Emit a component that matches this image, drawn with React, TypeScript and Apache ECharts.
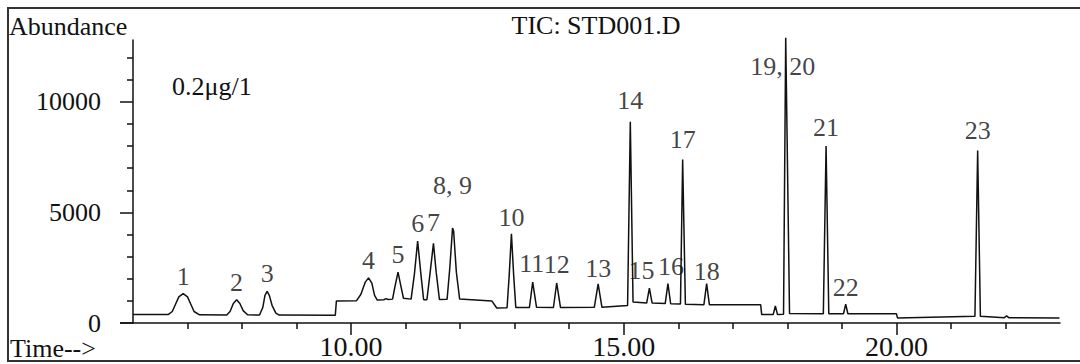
import React, { useEffect, useRef } from "react";
import * as echarts from "echarts";

// Chromatogram trace: [time (min), abundance]
const traceTimes: number[] = [
  6.0, 6.65, 6.72, 6.78, 6.84, 6.92, 7.0, 7.06, 7.12, 7.22,
  7.72, 7.78, 7.84, 7.9, 7.96, 8.02, 8.1,
  8.32, 8.38, 8.42, 8.46, 8.5, 8.55, 8.62, 8.68,
  9.71, 9.73, 10.1, 10.18, 10.26, 10.32, 10.38, 10.43, 10.48,
  10.6, 10.64, 10.68, 10.76, 10.8, 10.86, 10.91, 10.96,
  11.1, 11.16, 11.22, 11.28, 11.33, 11.39, 11.45, 11.51, 11.56, 11.62,
  11.76, 11.81, 11.86, 11.88, 11.93, 11.99,
  12.58, 12.67, 12.86, 12.9, 12.94, 12.98, 13.02,
  13.27, 13.33, 13.4, 13.71, 13.77, 13.84, 14.46, 14.53, 14.6,
  15.07, 15.12, 15.17, 15.42, 15.47, 15.52, 15.76, 15.81, 15.86,
  16.04, 16.08, 16.13, 16.47, 16.52, 16.57,
  17.51, 17.53, 17.74, 17.78, 17.82, 17.93, 17.97, 18.04,
  18.66, 18.71, 18.76, 19.03, 19.07, 19.11,
  20.0, 20.02, 21.44, 21.49, 21.54, 21.98, 22.02, 22.06, 22.99,
];
const traceValues: number[] = [
  390, 390, 520, 850, 1180, 1330, 1180, 850, 520, 370,
  360, 520, 880, 1050, 880, 560, 370,
  360, 700, 1250, 1430, 1250, 800, 450, 360,
  350, 1000, 1010, 1300, 1850, 2040, 1800, 1250, 1040,
  1050, 1100, 1060, 1080, 1600, 2300, 1700, 1120,
  1080, 2200, 3700, 2200, 1050, 1050, 2300, 3600, 2300, 1060,
  1070, 2500, 4300, 4150, 2300, 1080,
  1000, 680, 690, 2200, 4040, 2200, 700,
  700, 1850, 710, 700, 1810, 700, 710, 1770, 710,
  790, 9100, 950, 900, 1580, 900, 880, 1780, 870,
  860, 7400, 850, 830, 1780, 830,
  830, 380, 380, 770, 380, 400, 12900, 430,
  420, 8000, 420, 420, 850, 420,
  420, 230, 300, 7800, 300, 240, 320, 240, 230,
];

// Peak labels and the apex each one sits on
const peakNames: string[] = [
  "1", "2", "3", "4", "5", "6", "7", "8, 9", "10", "11", "12", "13",
  "14", "15", "16", "17", "18", "19, 20", "21", "22", "23",
];
const peakTimes: number[] = [
  6.92, 7.9, 8.46, 10.32, 10.86, 11.22, 11.51, 11.86, 12.94, 13.33, 13.77, 14.53,
  15.12, 15.47, 15.81, 16.08, 16.52, 17.97, 18.71, 19.07, 21.49,
];
const peakValues: number[] = [
  1330, 1050, 1430, 2040, 2300, 3700, 3600, 4300, 4040, 1850, 1810, 1770,
  9100, 1580, 1780, 7400, 1780, 12900, 8000, 850, 7800,
];
// label pixel offsets (layout only)
const peakLabelOffsets: [number, number][] = [
  [0, 0], [0, 0], [0, 0], [0, 0], [0, 0], [0, 0], [0, -3], [0, -25], [0, 1], [-1, -1], [0, -1], [0, 2],
  [0, -4], [-8, 0], [3, 0], [0, -2], [0, 5], [-3, 46], [0, -1], [0, 1], [0, -3],
];

// Axis ticks and labels
const yMajorTicks: number[] = [0, 5000, 10000];
const yMinorTicks: number[] = [1000, 2000, 3000, 4000, 6000, 7000, 8000, 9000, 11000, 12000];
const xMajorTicks: number[] = [10, 15, 20];
const xMinorTicks: number[] = [7, 8, 9, 11, 12, 13, 14, 16, 17, 18, 19, 21, 22];

const FONT = "'Liberation Serif', 'Times New Roman', serif";
const INK = "#111111";

export default function App() {
  const ref = useRef<HTMLDivElement>(null);

  useEffect(() => {
    document.body.style.margin = "0";
    if (!ref.current) return;
    const chart = echarts.init(ref.current, null, { renderer: "svg" });

    const trace = traceTimes.map((t, i) => [t, traceValues[i]]);
    const peaks = peakNames.map((name, i) => ({
      name,
      value: [peakTimes[i], peakValues[i]],
      label: { offset: peakLabelOffsets[i] },
    }));

    const grid = { left: 133, right: 20, top: 40, bottom: 41 };

    chart.setOption({
      animation: false,
      backgroundColor: "#ffffff",
      grid,
      xAxis: [
        {
          type: "value",
          min: 6,
          max: 23,
          axisLine: { show: true, lineStyle: { color: INK, width: 1.5 } },
          axisTick: {
            show: true,
            length: 12,
            lineStyle: { color: INK, width: 1.5 },
            customValues: xMajorTicks,
          },
          axisLabel: {
            show: true,
            customValues: xMajorTicks,
            formatter: (v: number) => v.toFixed(2),
            fontFamily: FONT,
            fontSize: 28,
            color: INK,
            margin: 9,
          },
          splitLine: { show: false },
        },
        {
          type: "value",
          min: 6,
          max: 23,
          position: "bottom",
          axisLine: { show: false },
          axisTick: {
            show: true,
            length: 6,
            lineStyle: { color: INK, width: 1.5 },
            customValues: xMinorTicks,
          },
          axisLabel: { show: false },
          splitLine: { show: false },
        },
      ],
      yAxis: [
        {
          type: "value",
          min: 0,
          max: 12800,
          axisLine: { show: true, lineStyle: { color: INK, width: 1.5 } },
          axisTick: {
            show: true,
            length: 13,
            lineStyle: { color: INK, width: 1.5 },
            customValues: yMajorTicks,
          },
          axisLabel: {
            show: true,
            customValues: yMajorTicks,
            formatter: (v: number) => String(v),
            fontFamily: FONT,
            fontSize: 26,
            color: INK,
            margin: 32,
          },
          splitLine: { show: false },
        },
        {
          type: "value",
          min: 0,
          max: 12800,
          position: "left",
          axisLine: { show: false },
          axisTick: {
            show: true,
            length: 6,
            lineStyle: { color: INK, width: 1.5 },
            customValues: yMinorTicks,
          },
          axisLabel: { show: false },
          splitLine: { show: false },
        },
      ],
      series: [
        {
          type: "line",
          data: trace,
          symbol: "none",
          showSymbol: false,
          clip: false,
          silent: true,
          lineStyle: { color: INK, width: 1.5 },
        },
        {
          type: "scatter",
          data: peaks,
          symbolSize: 1,
          clip: false,
          itemStyle: { color: "rgba(0,0,0,0)" },
          silent: true,
          label: {
            show: true,
            position: "top",
            distance: 4,
            formatter: "{b}",
            fontFamily: FONT,
            fontSize: 26,
            color: INK,
          },
        },
      ],
      graphic: [
        {
          type: "rect",
          shape: { x: 8, y: 8, width: 1100, height: 353 },
          style: { fill: "none", stroke: "#333", lineWidth: 2 },
          silent: true,
        },
        {
          type: "line",
          shape: { x1: 120, y1: 323, x2: 133, y2: 323 },
          style: { stroke: INK, lineWidth: 1.5 },
          silent: true,
        },
        {
          type: "text",
          x: 9,
          y: 26,
          style: {
            text: "Abundance",
            font: `26px ${FONT}`,
            fill: INK,
            verticalAlign: "middle",
          },
        },
        {
          type: "text",
          x: 596,
          y: 25,
          style: {
            text: "TIC: STD001.D",
            font: `26px ${FONT}`,
            fill: INK,
            align: "center",
            verticalAlign: "middle",
          },
        },
        {
          type: "text",
          x: 172,
          y: 86,
          style: {
            text: "0.2μg/1",
            font: `26px ${FONT}`,
            fill: INK,
            verticalAlign: "middle",
          },
        },
        {
          type: "text",
          x: 10,
          y: 348,
          style: {
            text: "Time-->",
            font: `26px ${FONT}`,
            fill: INK,
            verticalAlign: "middle",
          },
        },
      ],
    });

    return () => chart.dispose();
  }, []);

  return (
    <div
      ref={ref}
      style={{ position: "fixed", left: 0, top: 0, width: 1080, height: 364 }}
    />
  );
}
